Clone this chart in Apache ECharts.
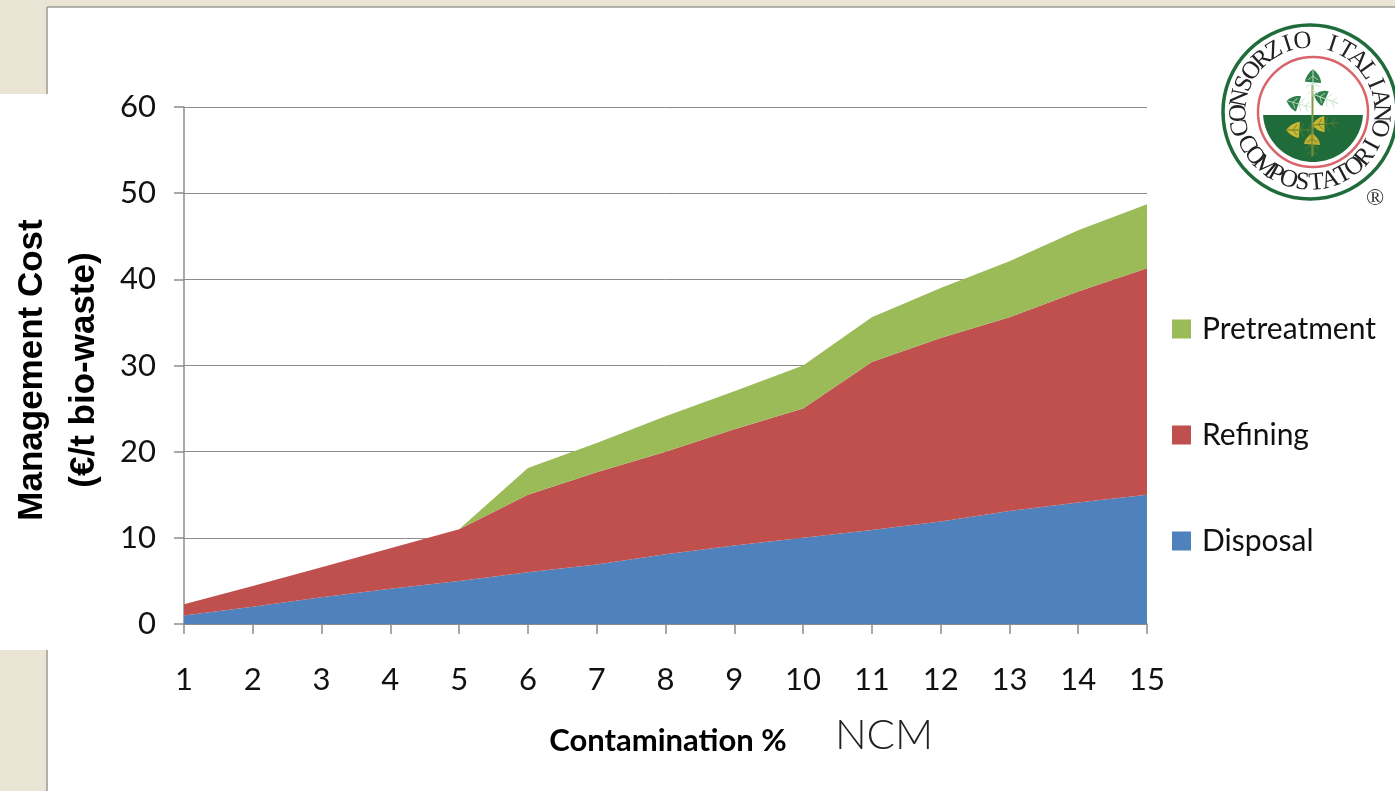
<!DOCTYPE html>
<html>
<head>
<meta charset="utf-8">
<style>html,body{margin:0;padding:0;background:#fff}#chart{width:1395px;height:791px}</style>
<script src="https://cdn.jsdelivr.net/npm/echarts@6/dist/echarts.min.js"></script>
</head>
<body>
<div id="chart"></div>
<script>
// Management cost per tonne of bio-waste against contamination level
const contamination = ['1','2','3','4','5','6','7','8','9','10','11','12','13','14','15'];
const disposal = [1,2,3.1,4.1,5,6,6.9,8.1,9.1,10,10.9,11.9,13.1,14.1,15];
const refining = [1.3,2.4,3.5,4.7,6,9,10.7,11.9,13.5,15,19.5,21.3,22.5,24.5,26.3];
const pretreatment = [0,0,0,0,0,3.1,3.4,4.1,4.4,5,5.2,5.8,6.5,7.1,7.4];
const legendOrder = ['Pretreatment','Refining','Disposal'];
const yTitleLines = 'Management Cost\n(€/t bio-waste)';

const AXIS_GREY = '#8c8c8c';
const BEIGE = '#e9e4d4';
const LOGO_GREEN = '#1f6b3a';
const LOGO_RED = '#d9656a';
const TEXT_FONT = 'Lato, "Open Sans", sans-serif';

// Consortium seal: centre of the rings and helpers for its parts
const cx = 1310, cy = 112;

function arcLetters(text, radius, startDeg, endDeg, bottom) {
  const n = text.length;
  return text.split('').map((ch, i) => {
    const deg = startDeg + (endDeg - startDeg) * i / (n - 1);
    const a = deg * Math.PI / 180;
    return {
      type: 'text',
      x: cx + radius * Math.cos(a),
      y: cy + radius * Math.sin(a),
      rotation: bottom ? -(deg - 90) * Math.PI / 180 : -(deg + 90) * Math.PI / 180,
      z: 12,
      style: {
        text: ch, fill: '#222',
        font: '25px "Liberation Serif", serif',
        textAlign: 'center', textVerticalAlign: 'middle'
      }
    };
  });
}

// A pointed leaf with a midrib and side veins
function leaf(x, y, halfLen, halfWidth, deg, fill, vein) {
  const pts = [];
  for (let i = 0; i <= 24; i++) {
    const t = -1 + i / 12;
    const side = i <= 12 ? 1 : -1;
    const along = i <= 12 ? t : 2 - (t + 1) - 1;
    pts.push([along * halfLen, -side * halfWidth * (1 - along * along)]);
  }
  const rotation = -deg * Math.PI / 180;
  const parts = [
    { type: 'polygon', x: x, y: y, rotation: rotation, z: 13, shape: { points: pts }, style: { fill: fill } },
    { type: 'line', x: x, y: y, rotation: rotation, z: 14, shape: { x1: -halfLen, y1: 0, x2: halfLen, y2: 0 }, style: { stroke: vein, lineWidth: 1 } }
  ];
  [-0.5, 0, 0.5].forEach(f => {
    const reach = halfWidth * (1 - f * f) * 0.85;
    [1, -1].forEach(s => parts.push({
      type: 'line', x: x, y: y, rotation: rotation, z: 14,
      shape: { x1: f * halfLen, y1: 0, x2: (f + 0.28) * halfLen, y2: s * reach },
      style: { stroke: vein, lineWidth: 0.8 }
    }));
  });
  return parts;
}

// Lower part of the inner disc, cut off by a horizontal chord
function soilOutline(centreX, centreY, r, chordY) {
  const start = Math.asin((chordY - centreY) / r);
  const pts = [];
  for (let i = 0; i <= 48; i++) {
    const a = start + (Math.PI - 2 * start) * i / 48;
    pts.push([centreX + r * Math.cos(a), centreY + r * Math.sin(a)]);
  }
  return pts;
}

const panelAndSeal = [
  // slide backdrop and the white panel over it
  { type: 'rect', z: -10, silent: true, shape: { x: 0, y: 0, width: 1395, height: 791 }, style: { fill: '#fff' } },
  { type: 'rect', z: -9, silent: true, shape: { x: 0, y: 0, width: 1395, height: 7 }, style: { fill: BEIGE } },
  { type: 'rect', z: -9, silent: true, shape: { x: 0, y: 0, width: 47, height: 94 }, style: { fill: BEIGE } },
  { type: 'rect', z: -9, silent: true, shape: { x: 0, y: 650, width: 47, height: 141 }, style: { fill: BEIGE } },
  { type: 'line', z: -8, silent: true, shape: { x1: 47, y1: 7, x2: 1395, y2: 7 }, style: { stroke: '#9a9a94', lineWidth: 1.5 } },
  { type: 'line', z: -8, silent: true, shape: { x1: 47, y1: 7, x2: 47, y2: 94 }, style: { stroke: '#9a9a94', lineWidth: 1.5 } },
  { type: 'line', z: -8, silent: true, shape: { x1: 47, y1: 650, x2: 47, y2: 791 }, style: { stroke: '#9a9a94', lineWidth: 1.5 } },

  // seal rings and the soil half of the inner disc
  { type: 'circle', z: 10, shape: { cx: cx, cy: cy, r: 87 }, style: { fill: '#fff', stroke: LOGO_GREEN, lineWidth: 3.5 } },
  { type: 'circle', z: 11, shape: { cx: cx + 3, cy: cy, r: 55 }, style: { fill: '#fff', stroke: LOGO_RED, lineWidth: 2.5 } },
  { type: 'polygon', z: 12,
    shape: { points: soilOutline(cx + 3, cy, 50, 115) },
    style: { fill: LOGO_GREEN } },
  { type: 'line', z: 13, shape: { x1: 1312.5, y1: 85, x2: 1312.5, y2: 156 }, style: { stroke: '#7d9a45', lineWidth: 2 } },
  ...leaf(1313, 83, 14, 8, 90, '#2f7f4c', '#bfe0c0'),
  ...leaf(1299, 104, 13, 8, 15, '#2f7f4c', '#bfe0c0'),
  ...leaf(1326, 99, 13, 8, 20, '#2f7f4c', '#bfe0c0'),
  ...leaf(1300, 130, 14, 8, 0, '#c9b832', '#5f7f30'),
  ...leaf(1325, 124, 13, 8, -5, '#c9b832', '#5f7f30'),
  ...leaf(1312, 145, 12, 8, 90, '#c0ae30', '#5f7f30'),

  // seal lettering and the registered mark
  ...arcLetters('CONSORZIO ITALIANO', 71, 167, 373, false),
  ...arcLetters('COMPOSTATORI', 71, 153, 28, true),
  { type: 'text', x: 1375, y: 199, z: 12, style: { text: '®', fill: '#333', font: '24px "Liberation Serif", serif', textAlign: 'center', textVerticalAlign: 'middle' } },

  // axis captions
  { type: 'text', x: 668, y: 741, style: { text: 'Contamination %', fill: '#000', font: 'bold 31px ' + TEXT_FONT, textAlign: 'center', textVerticalAlign: 'middle' } },
  { type: 'text', x: 884, y: 735, style: { text: 'NCM', fill: '#222', font: '300 42px Lato, sans-serif', textAlign: 'center', textVerticalAlign: 'middle' } },
  { type: 'text', x: 58, y: 370, rotation: Math.PI / 2,
    style: { text: yTitleLines, fill: '#000', font: 'bold 35px "Liberation Sans", sans-serif', lineHeight: 52, textAlign: 'center', textVerticalAlign: 'middle' } }
];

function areaSeries(name, values, color) {
  return {
    name: name,
    type: 'line',
    stack: 'cost',
    data: values,
    symbol: 'none',
    lineStyle: { width: 0 },
    areaStyle: { color: color, opacity: 1 },
    itemStyle: { color: color }
  };
}

const chart = echarts.init(document.getElementById('chart'), null, { renderer: 'canvas' });
chart.setOption({
  animation: false,
  backgroundColor: 'transparent',
  grid: { left: 184, right: 248, top: 107, bottom: 167 },
  legend: {
    data: legendOrder,
    orient: 'vertical',
    left: 1167,
    top: 306,
    itemWidth: 19,
    itemHeight: 19,
    itemGap: 70,
    icon: 'rect',
    textStyle: { fontFamily: TEXT_FONT, fontSize: 30, lineHeight: 30, color: '#111', padding: [6, 0, 0, 6] }
  },
  xAxis: {
    type: 'category',
    data: contamination,
    boundaryGap: false,
    axisLine: { lineStyle: { color: AXIS_GREY, width: 1.5 } },
    axisTick: { alignWithLabel: true, length: 10, lineStyle: { color: AXIS_GREY, width: 1.5 } },
    axisLabel: { interval: 0, margin: 40, color: '#111', fontFamily: TEXT_FONT, fontSize: 31, lineHeight: 31 }
  },
  yAxis: {
    type: 'value',
    min: 0,
    max: 60,
    interval: 10,
    axisLine: { show: true, lineStyle: { color: AXIS_GREY, width: 1.5 } },
    axisTick: { show: true, length: 10, lineStyle: { color: AXIS_GREY, width: 1.5 } },
    splitLine: { lineStyle: { color: AXIS_GREY, width: 1 } },
    axisLabel: { margin: 28, color: '#111', fontFamily: TEXT_FONT, fontSize: 31, padding: [6, 0, 0, 0] }
  },
  series: [
    areaSeries('Disposal', disposal, '#4f81bd'),
    areaSeries('Refining', refining, '#c0504d'),
    areaSeries('Pretreatment', pretreatment, '#9bbb59')
  ],
  graphic: { elements: panelAndSeal }
});
</script>
</body>
</html>
